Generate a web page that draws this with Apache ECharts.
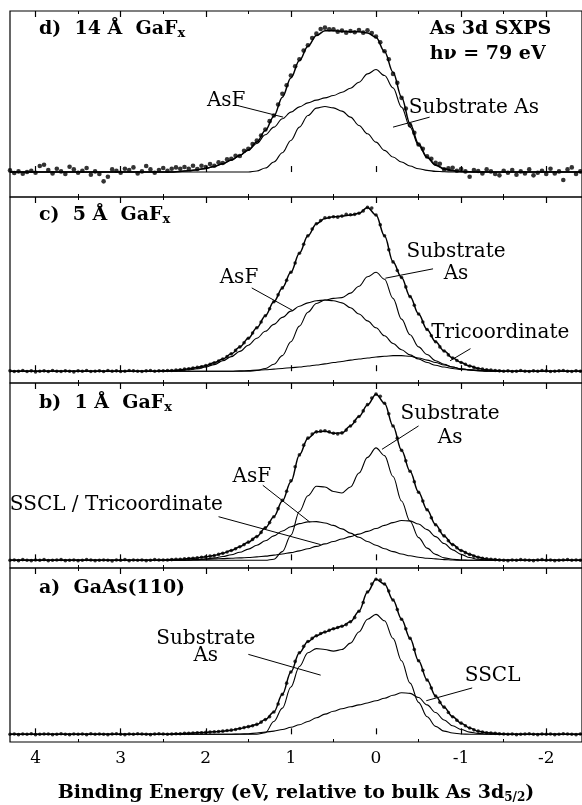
<!DOCTYPE html>
<html><head><meta charset="utf-8">
<script src="https://cdn.jsdelivr.net/npm/echarts@6/dist/echarts.min.js"></script>
<style>html,body{margin:0;padding:0;background:#fff}#c{width:582px;height:805px}</style>
</head><body><div id="c"></div>
<script>
// Binding energy (eV) of the measured points, shared by all four spectra
const dotE = [4.30,4.25,4.20,4.15,4.10,4.05,4.00,3.95,3.90,3.85,3.80,3.75,3.70,3.65,3.60,3.55,3.50,3.45,3.40,3.35,3.30,3.25,3.20,3.15,3.10,3.05,3.00,2.95,2.90,2.85,2.80,2.75,2.70,2.65,2.60,2.55,2.50,2.45,2.40,2.35,2.30,2.25,2.20,2.15,2.10,2.05,2.00,1.95,1.90,1.85,1.80,1.75,1.70,1.65,1.60,1.55,1.50,1.45,1.40,1.35,1.30,1.25,1.20,1.15,1.10,1.05,1.00,0.95,0.90,0.85,0.80,0.75,0.70,0.65,0.60,0.55,0.50,0.45,0.40,0.35,0.30,0.25,0.20,0.15,0.10,0.05,0.00,-0.05,-0.10,-0.15,-0.20,-0.25,-0.30,-0.35,-0.40,-0.45,-0.50,-0.55,-0.60,-0.65,-0.70,-0.75,-0.80,-0.85,-0.90,-0.95,-1.00,-1.05,-1.10,-1.15,-1.20,-1.25,-1.30,-1.35,-1.40,-1.45,-1.50,-1.55,-1.60,-1.65,-1.70,-1.75,-1.80,-1.85,-1.90,-1.95,-2.00,-2.05,-2.10,-2.15,-2.20,-2.25,-2.30,-2.35,-2.40];

// measured intensities (arb. units, background = 0)
const dotsD = [5,-3,2,-5,0,4,-2,18,22,6,-4,10,2,-6,16,8,-2,4,12,-8,2,-6,-28,-14,8,4,-2,10,6,14,-4,2,18,8,-2,6,12,4,10,14,
 10,15,10,19,9,19,15,24,19,29,27,38,40,49,48,64,70,84,95,110,128,153,170,203,235,261,290,318,339,365,381,403,416,430,434,429,429,422,425,419,424,420,427,419,426,418,407,390,363,339,295,268,223,191,141,118,83,70,47,40,28,25,8,11,13,
 4,9,2,-14,6,3,-4,8,2,-6,-10,4,-2,6,-8,2,-4,8,-10,-2,4,-6,10,-4,2,-24,8,14,-6,2];
const dotsC = [1,-1,0,2,-1,1,-2,0,1,-1,2,0,-1,1,0,-2,1,0,2,-1,0,1,-1,2,0,1,-1,0,2,1,0,-1,1,2,0,1,
 1,2,2,3,4,6,7,9,11,13,16,20,24,29,35,42,50,60,70,82,95,110,125,142,160,180,200,220,240,262,285,312,340,366,390,410,425,434,442,443,445,444,447,452,451,452,455,462,472,470,450,422,390,350,315,290,270,243,215,190,165,142,120,102,85,70,58,47,38,31,25,20,15,11,8,6,4,3,2,1,
 0,1,-1,0,2,0,-1,1,0,2,1,-1,0,1,2,0,-1,1,0];
const dotsB = [0,1,-1,2,0,-1,1,0,2,-1,0,1,2,-1,0,1,-1,0,2,1,-1,0,1,0,-2,1,0,2,-1,1,0,1,-1,0,2,1,
 1,1,2,3,3,4,5,6,7,9,10,12,14,17,20,24,28,33,39,45,52,60,68,80,93,108,125,148,172,198,228,268,302,330,350,362,368,370,371,368,364,362,365,373,385,398,412,428,446,465,476,470,450,420,385,350,315,285,255,225,195,170,145,122,102,85,70,56,45,36,28,22,17,12,9,6,4,3,2,1,
 0,-1,1,0,2,1,0,-1,1,2,0,1,-1,0,1,2,0,1,0];
const dotsA = [0,1,-1,1,0,2,-1,0,1,1,-1,0,2,0,-1,1,0,1,-1,2,0,1,0,-1,1,2,0,-1,1,0,2,1,0,-1,1,2,1,0,
 1,2,2,3,3,4,5,5,6,7,8,9,10,12,13,15,18,21,24,27,31,38,46,55,70,95,125,160,195,228,255,275,290,300,308,315,320,325,330,334,338,343,352,365,385,412,445,470,485,482,470,448,420,390,360,330,300,265,230,200,170,145,120,100,85,68,55,44,35,27,20,14,10,7,5,4,3,2,1,
 0,1,-1,0,1,2,0,-1,1,0,1,-1,0,2,1,0,-1,1];

// binding energy of the fitted curve samples
const curveE = [2.6,2.5,2.4,2.3,2.2,2.1,2.0,1.9,1.8,1.7,1.6,1.5,1.4,1.3,1.2,1.1,1.0,0.9,0.8,0.7,0.6,0.5,0.4,0.3,0.2,0.1,0.0,-0.1,-0.2,-0.3,-0.4,-0.5,-0.6,-0.7,-0.8,-0.9,-1.0,-1.1,-1.2,-1.3,-1.4,-1.5,-1.6];

// d) 14 A GaFx
const fitD    = [0,0,0,2,4,7,11,17,25,36,50,67,90,125,168,225,283,335,378,410,425,425,423,422,422,418,405,362,300,225,145,85,45,22,10,5,2,1,0,0,0,0,0];
const broadD  = [0,0,0,2,4,7,11,17,25,36,50,65,86,112,135,160,180,196,208,216,223,230,240,252,270,295,308,290,253,195,135,80,43,20,8,3,1,0,0,0,0,0,0];
const narrowD = [0,0,0,0,0,0,0,0,0,0,0,0,3,12,30,58,95,135,170,192,197,193,183,165,140,115,90,65,45,30,18,10,5,2,1,0,0,0,0,0,0,0,0];
// c) 5 A GaFx
const fitC = [0,1,2,4,7,11,16,24,35,50,70,95,125,160,200,240,285,340,390,425,440,445,447,450,455,472,450,390,315,270,215,165,120,85,58,38,25,15,8,4,2,0,0];
const asfC = [0,0,1,2,4,7,12,19,30,42,57,75,95,115,135,155,173,187,197,203,205,203,197,183,165,145,125,102,80,62,47,35,25,17,12,8,5,3,1,0,0,0,0];
const subC = [0,0,0,0,0,0,0,0,0,0,0,0,2,8,20,45,85,130,170,195,205,210,212,225,245,272,285,265,210,150,105,70,48,30,20,12,7,4,2,1,0,0,0];
const triC = [0,0,0,0,0,0,0,0,0,0,1,2,3,4,6,8,10,12,15,18,21,25,28,32,35,38,41,43,45,45,43,38,32,25,18,12,7,4,2,1,0,0,0];
// b) 1 A GaFx
const fitB = [0,1,2,3,5,7,10,14,20,28,39,52,68,93,125,170,225,302,350,368,370,364,365,385,412,445,476,450,385,315,255,195,145,102,70,45,28,17,9,4,2,0,0];
const subB = [0,0,0,0,0,0,0,0,0,0,0,0,0,0,3,25,72,140,185,212,210,197,193,210,250,295,322,300,240,170,112,65,35,17,7,3,1,0,0,0,0,0,0];
const asfB = [0,0,0,0,1,2,4,7,11,16,23,32,43,56,70,84,96,105,110,111,107,100,90,78,66,54,43,33,25,18,13,9,6,4,2,1,0,0,0,0,0,0,0];
const triB = [0,0,0,0,1,2,3,4,5,6,7,8,10,12,15,18,22,27,33,40,47,54,61,68,75,83,91,100,108,114,113,104,88,68,48,30,17,8,3,1,0,0,0];
// a) GaAs(110)
const fitA  = [0,0,1,2,3,5,6,8,10,13,18,24,31,46,70,125,195,255,290,308,320,330,338,352,385,445,485,470,420,360,300,230,170,120,85,55,35,20,10,5,3,1,0];
const subA  = [0,0,0,0,0,0,0,0,0,0,0,0,0,5,40,82,148,212,255,268,265,260,265,285,320,360,375,355,300,230,160,100,55,25,10,4,1,0,0,0,0,0,0];
const ssclA = [0,0,0,0,0,0,0,0,0,0,1,2,4,7,10,15,22,30,40,52,63,72,80,86,92,98,105,113,122,130,128,115,92,68,45,27,15,7,3,1,0,0,0];

// axis ticks
const majorTicks = [-2,-1,0,1,2,3,4];
const minorTicks = [-2.5,-1.5,-0.5,0.5,1.5,2.5,3.5];
const xMin = -2.42, xMax = 4.30;

const panels = [
  {dots: dotsD, fit: fitD, comps: [broadD, narrowD], yMin: -75, yMax: 484, dot: 4.6},
  {dots: dotsC, fit: fitC, comps: [asfC, subC, triC], yMin: -34, yMax: 502, dot: 3.6},
  {dots: dotsB, fit: fitB, comps: [subB, asfB, triB], yMin: -22, yMax: 508, dot: 3.6},
  {dots: dotsA, fit: fitA, comps: [subA, ssclA], yMin: -24, yMax: 520, dot: 3.6}
];
const gridBox = [[11,186],[197,186],[383,185],[568,185]];

const SERIF = '"DejaVu Serif", "Liberation Serif", serif';

const grids = [], xAxes = [], yAxes = [], series = [];
function curve(vals){
  const d = [[xMax, 0]];
  curveE.forEach((e,i)=>d.push([e, vals[i]]));
  d.push([xMin, 0]);
  return d;
}
panels.forEach((p, g) => {
  grids.push({left: 10, right: -6, top: gridBox[g][0], height: gridBox[g][1], show: true,
    borderColor: '#000', borderWidth: 1.2, backgroundColor: 'transparent'});
  const base = {type: 'value', gridIndex: g, min: xMin, max: xMax, inverse: true,
    axisLine: {show: false}, splitLine: {show: false}};
  xAxes.push(Object.assign({}, base, {position: 'bottom',
    axisTick: {show: true, inside: true, length: 6, customValues: majorTicks, lineStyle: {color: '#000', width: 1.2}},
    axisLabel: {show: g === 3, customValues: majorTicks, color: '#000', fontFamily: SERIF, fontSize: 17, margin: 8},
    name: g === 3 ? '{b|Binding Energy (eV, relative to bulk As 3d}{s|5/2}{b|)}' : '',
    nameLocation: 'middle', nameGap: 40,
    nameTextStyle: {rich: {
      b: {fontFamily: SERIF, fontWeight: 'bold', fontSize: 19, color: '#000'},
      s: {fontFamily: SERIF, fontWeight: 'bold', fontSize: 12, color: '#000', padding: [10, 0, 0, 0]}}}
  }));
  xAxes.push(Object.assign({}, base, {position: 'bottom',
    axisTick: {show: true, inside: true, length: 3, customValues: minorTicks, lineStyle: {color: '#000', width: 1}},
    axisLabel: {show: false}}));
  xAxes.push(Object.assign({}, base, {position: 'top',
    axisTick: {show: true, inside: true, length: 6, customValues: majorTicks, lineStyle: {color: '#000', width: 1.2}},
    axisLabel: {show: false}}));
  xAxes.push(Object.assign({}, base, {position: 'top',
    axisTick: {show: true, inside: true, length: 3, customValues: minorTicks, lineStyle: {color: '#000', width: 1}},
    axisLabel: {show: false}}));
  yAxes.push({type: 'value', gridIndex: g, min: p.yMin, max: p.yMax, show: false, splitLine: {show: false}});
  p.comps.forEach(c => series.push({type: 'line', xAxisIndex: 4*g, yAxisIndex: g, data: curve(c),
    showSymbol: false, smooth: 0.35, smoothMonotone: 'x', lineStyle: {color: '#000', width: 1.1}, z: 2}));
  series.push({type: 'line', xAxisIndex: 4*g, yAxisIndex: g, data: curve(p.fit),
    showSymbol: false, smooth: 0.35, smoothMonotone: 'x', lineStyle: {color: '#000', width: 1.5}, z: 3});
  series.push({type: 'scatter', xAxisIndex: 4*g, yAxisIndex: g, data: dotE.map((e,i)=>[e, p.dots[i]]),
    symbolSize: p.dot, itemStyle: {color: '#000'}, z: 4});
});

const chart = echarts.init(document.getElementById('c'), null, {renderer: 'canvas'});
chart.setOption({animation: false, backgroundColor: '#fff', grid: grids, xAxis: xAxes, yAxis: yAxes, series: series});

// annotations: [panel, E, value]
const texts = [
  {g:0, E:3.96, v:430, t:'{b|d)  14 Å  GaF}{s|x}', align:'left', bold:true},
  {g:0, E:-0.63, v:430, t:'As 3d SXPS', align:'left', bold:true},
  {g:0, E:-0.63, v:355, t:'hν = 79 eV', align:'left', bold:true},
  {g:0, E:1.76, v:215, t:'AsF', align:'center'},
  {g:0, E:-1.15, v:192, t:'Substrate As', align:'center'},
  {g:1, E:3.96, v:450, t:'{b|c)  5 Å  GaF}{s|x}', align:'left', bold:true},
  {g:1, E:-0.94, v:345, t:'Substrate', align:'center'},
  {g:1, E:-0.94, v:280, t:'As', align:'center'},
  {g:1, E:1.61, v:268, t:'AsF', align:'center'},
  {g:1, E:-1.46, v:110, t:'Tricoordinate', align:'center'},
  {g:2, E:3.96, v:450, t:'{b|b)  1 Å  GaF}{s|x}', align:'left', bold:true},
  {g:2, E:-0.87, v:420, t:'Substrate', align:'center'},
  {g:2, E:-0.87, v:350, t:'As', align:'center'},
  {g:2, E:1.46, v:240, t:'AsF', align:'center'},
  {g:2, E:3.05, v:160, t:'SSCL / Tricoordinate', align:'center'},
  {g:3, E:3.96, v:458, t:'a)  GaAs(110)', align:'left', bold:true},
  {g:3, E:2.0, v:299, t:'Substrate', align:'center'},
  {g:3, E:2.0, v:245, t:'As', align:'center'},
  {g:3, E:-1.37, v:184, t:'SSCL', align:'center'}
];
const leaders = [
  {g:0, a:[1.63,200], b:[1.09,165]},
  {g:0, a:[-0.63,165], b:[-0.20,135]},
  {g:1, a:[-0.67,295], b:[-0.11,268]},
  {g:1, a:[1.46,240], b:[0.98,175]},
  {g:1, a:[-1.11,65], b:[-0.87,30]},
  {g:2, a:[-0.50,385], b:[-0.07,318]},
  {g:2, a:[1.33,215], b:[0.78,110]},
  {g:2, a:[1.85,125], b:[0.65,45]},
  {g:3, a:[1.50,250], b:[0.65,185]},
  {g:3, a:[-1.13,145], b:[-0.59,105]}
];
function px(g, pt){ return chart.convertToPixel({xAxisIndex: 4*g, yAxisIndex: g}, pt); }
const graphics = [];
texts.forEach(o => {
  const p = px(o.g, [o.E, o.v]);
  const rich = {
    b: {fontFamily: SERIF, fontWeight: 'bold', fontSize: 19, fill: '#000'},
    s: {fontFamily: SERIF, fontWeight: 'bold', fontSize: 13, fill: '#000', padding: [9,0,0,0]}
  };
  graphics.push({type: 'text', x: p[0], y: p[1], z: 10, style: {
    text: o.t, fill: '#000', fontFamily: SERIF, fontSize: o.bold ? 19 : 20,
    fontWeight: o.bold ? 'bold' : 'normal', align: o.align, verticalAlign: 'middle', rich: rich}});
});
leaders.forEach(l => {
  const a = px(l.g, l.a), b = px(l.g, l.b);
  graphics.push({type: 'line', z: 10, shape: {x1: a[0], y1: a[1], x2: b[0], y2: b[1]},
    style: {stroke: '#000', lineWidth: 1}});
});
chart.setOption({graphic: graphics});
</script>
</body></html>
